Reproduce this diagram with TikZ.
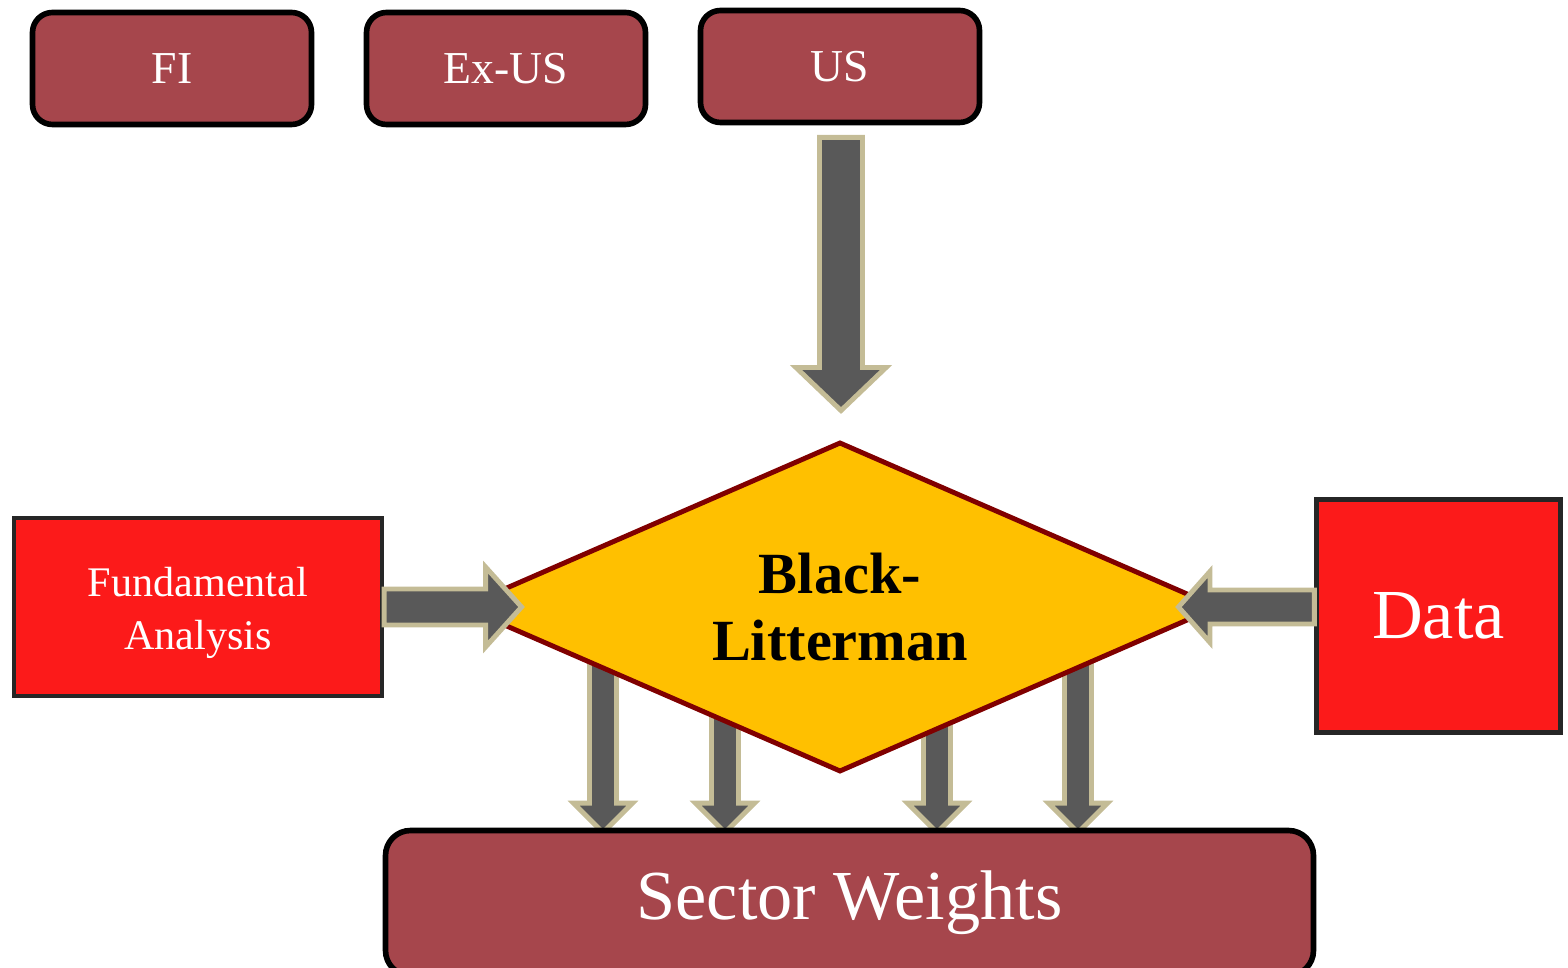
\documentclass[tikz,border=0pt]{standalone}
\usepackage{fontspec}
\setmainfont{Liberation Serif}
\usetikzlibrary{shapes.geometric,calc,backgrounds}

\definecolor{boxred}{RGB}{166,70,76}
\definecolor{brightred}{RGB}{252,26,26}
\definecolor{blfill}{RGB}{255,192,0}
\definecolor{bledge}{RGB}{128,0,0}
\definecolor{arrfill}{RGB}{89,89,89}
\definecolor{arredge}{RGB}{196,188,150}
\definecolor{boxedge}{RGB}{38,38,38}

\tikzset{
  assetbox/.style={draw=black, line width=1.6pt, fill=boxred, rounded corners=0.2cm,
    minimum width=2.79cm, minimum height=1.12cm, text=white,
    font=\fontsize{13}{15}\selectfont},
  inputbox/.style={draw=boxedge, line width=1.2pt, fill=brightred, text=white, align=center},
  fatarr/.style={fill=arrfill, draw=arredge, line width=1.4pt},
}

% block arrow: start, tip, shaft half width, head half width, head length
\newcommand{\fatarrow}[5]{%
  \path ($(#2)!#5!(#1)$) coordinate (hb);
  \draw[fatarr] ($(#1)!#3!90:(#2)$) -- ($(hb)!#3!90:(#2)$) -- ($(hb)!#4!90:(#2)$) -- (#2)
    -- ($(hb)!#4!-90:(#2)$) -- ($(hb)!#3!-90:(#2)$) -- ($(#1)!#3!-90:(#2)$) -- cycle;
}

\begin{document}
\begin{tikzpicture}
  \useasboundingbox (0,0) rectangle (15.68,-9.68);

  \node[assetbox] (fi) at (1.72,-0.685) {FI};
  \node[assetbox] (exus) at (5.06,-0.685) {Ex-US};
  \node[assetbox] (us) at (8.40,-0.665) {US};

  \node[inputbox, minimum width=3.68cm, minimum height=1.78cm] (fa) at (1.98,-6.07) {};
  \node[text=white, align=center, font=\fontsize{12}{15}\selectfont]
    (falbl) at ($(fa.center)+(0,-0.06)$) {Fundamental\\Analysis};
  \node[inputbox, minimum width=2.44cm, minimum height=2.33cm,
    font=\fontsize{20}{24}\selectfont] (data) at (14.385,-6.16) {\raisebox{-0.05cm}{Data}};

  \node[diamond, aspect=2.3, draw=bledge, line width=1.4pt, fill=blfill, inner sep=0pt,
    minimum width=7.56cm, minimum height=3.30cm, align=center,
    font=\bfseries\fontsize{16.6}{19}\selectfont] (bl) at (8.40,-6.07) {Black-\\Litterman};

  \node[draw=black, line width=1.6pt, fill=boxred, rounded corners=0.25cm,
    minimum width=9.28cm, minimum height=1.45cm, text=white,
    font=\fontsize{20}{24}\selectfont] (sw) at (8.495,-9.03) {Sector Weights};

  % views into the model
  \coordinate (usS) at ($(us.south)+(0.01,-0.12)$);
  \coordinate (usT) at ($(bl.north)+(0.01,0.29)$);
  \fatarrow{usS}{usT}{0.215cm}{0.45cm}{0.43cm}

  \coordinate (faT) at ($(bl.west)+(0.62,0)$);
  \fatarrow{fa.east}{faT}{0.18cm}{0.40cm}{0.36cm}

  \coordinate (daS) at (data.west |- bl.east);
  \coordinate (daT) at ($(bl.east)+(-0.42,0)$);
  \fatarrow{daS}{daT}{0.17cm}{0.355cm}{0.315cm}

  % outputs, behind the diamond
  \begin{pgfonlayer}{background}
    \foreach \x [count=\i] in {6.03,7.25,9.37,10.78} {
      \coordinate (d\i) at (\x,-6.3);
      \coordinate (t\i) at ($(d\i |- sw.north)+(0,-0.05)$);
      \fatarrow{d\i}{t\i}{0.135cm}{0.295cm}{0.295cm}
    }
  \end{pgfonlayer}
\end{tikzpicture}
\end{document}
